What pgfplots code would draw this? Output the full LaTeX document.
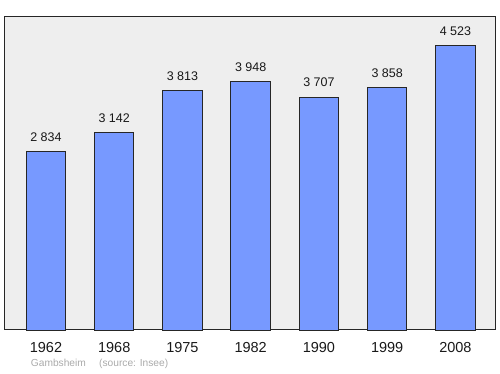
\documentclass[border=0pt]{standalone}
\usepackage{fontspec}
\setmainfont{Liberation Sans}
\usepackage{pgfplots}
\pgfplotsset{compat=1.18}
\definecolor{barblue}{RGB}{119,153,255}
\definecolor{bgray}{RGB}{238,238,238}
\definecolor{footgray}{RGB}{170,170,170}
\begin{document}
\begin{tikzpicture}
\useasboundingbox (0,0) rectangle (500pt,374pt);
\begin{axis}[
  at={(5pt,44pt)}, anchor=south west,
  scale only axis, width=490pt, height=313pt,
  xmin=-0.6, xmax=6.58, ymin=0, ymax=4980,
  axis background/.style={fill=bgray},
  axis line style={draw=black!85, line width=1pt},
  ytick=\empty,
  xtick={0,1,2,3,4,5,6},
  xticklabels={1962,1968,1975,1982,1990,1999,2008},
  major tick length=0pt,
  xticklabel style={font=\fontsize{14.5}{16}\selectfont, anchor=base, inner sep=0pt, yshift=-22.3pt, text=black!90},
  ybar, bar width=39.5pt,
  clip=false,
  point meta=explicit symbolic,
  nodes near coords,
  nodes near coords style={anchor=base, inner sep=0pt, yshift=10.3pt, font=\fontsize{12.5}{14}\selectfont, text=black!90},
]
\addplot[fill=barblue, draw=black!85, line width=0.9pt] table[meta=lab, col sep=comma] {
x,y,lab
0,2834,2 834
1,3142,3 142
2,3813,3 813
3,3948,3 948
4,3707,3 707
5,3858,3 858
6,4523,4 523
};
\end{axis}
\node[anchor=base west, inner sep=0pt, text=footgray, font=\fontsize{10.2}{12}\selectfont] at (30.7pt,7pt) {Gambsheim};
\node[anchor=base west, inner sep=0pt, text=footgray, font=\fontsize{10.2}{12}\selectfont] at (99pt,7pt) {(source: Insee)};
\end{tikzpicture}
\end{document}
